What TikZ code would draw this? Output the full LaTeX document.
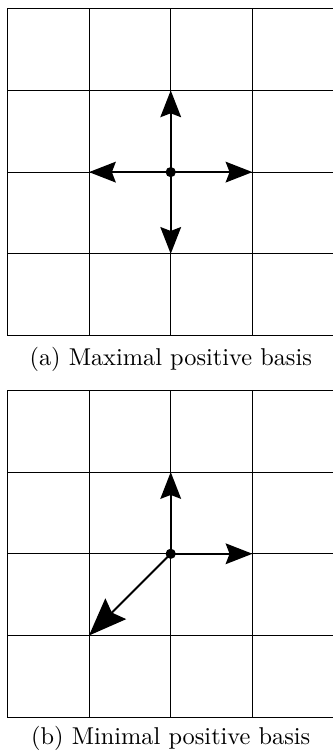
\documentclass[tikz,border=0pt]{standalone}
\usepackage{tikz}
\usetikzlibrary{arrows.meta, calc}
\tikzset{
  gridline/.style={black, line width=0.4pt, step=1.18cm},
  basisvec/.style={-{Stealth[length=11pt, width=8.5pt, inset=1.6pt]}, thick, black},
  diagvec/.style={-{Stealth[length=15.5pt, width=12pt, inset=2.2pt]}, thick, black},
  origin/.style={circle, fill=black, inner sep=0pt, minimum size=4.2pt},
  caption/.style={font=\normalsize, anchor=base}
}
\begin{document}
\begin{tikzpicture}[x=1.18cm, y=1.18cm]
  \useasboundingbox (-0.089,-5.12) rectangle (3.974,4.106);
  % (a) maximal basis
  \draw[gridline] (0,0) grid (4,4);
  \coordinate (oa) at (2,2);
  \coordinate (ae) at (3,2);
  \coordinate (an) at (2,3);
  \coordinate (aw) at (1,2);
  \coordinate (as) at (2,1);
  \foreach \t in {ae,an,aw,as}
    \draw[basisvec] (oa) -- (\t);
  \node[origin] (da) at (oa) {};
  \node[caption] (capa) at (2,-0.37) {(a) Maximal positive basis};
  % (b) minimal basis
  \begin{scope}[shift={(0,-4.67)}]
    \draw[gridline] (0,0) grid (4,4);
    \coordinate (ob) at (2,2);
    \coordinate (be) at (3,2);
    \coordinate (bn) at (2,3);
    \coordinate (bsw) at (1,1);
    \draw[basisvec] (ob) -- (be);
    \draw[basisvec] (ob) -- (bn);
    \draw[diagvec] (ob) -- (bsw);
    \node[origin] (db) at (ob) {};
  \end{scope}
  \node[caption] (capb) at (2,-5.0) {(b) Minimal positive basis};
\end{tikzpicture}
\end{document}
